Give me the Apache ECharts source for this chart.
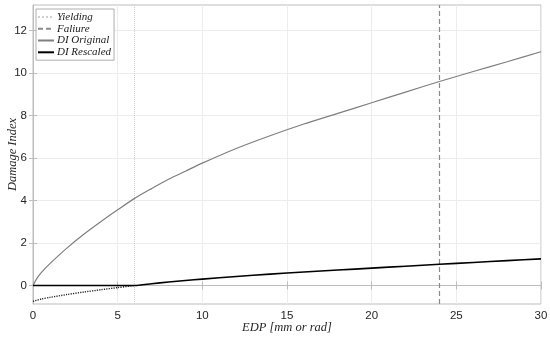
<!DOCTYPE html>
<html>
<head>
<meta charset="utf-8">
<script src="https://cdn.jsdelivr.net/npm/echarts@6/dist/echarts.min.js"></script>
<style>html,body{margin:0;padding:0;background:#fff}#c{width:550px;height:340px}</style>
</head>
<body>
<div id="c"></div>
<script>
// ---- data ----
const edp = [0,0.25,0.5,1,2,3,4,5,6,7,8,9,10,12,14,16,18,20,22,24,26,28,30];
const diOriginal = [0,0.36,0.62,1.03,1.76,2.41,3.00,3.56,4.10,4.56,5.00,5.38,5.76,6.45,7.05,7.60,8.10,8.60,9.10,9.60,10.07,10.53,11.00];
const diRescaled = [0,0,0,0,0,0,0,0,0,0.084,0.164,0.235,0.302,0.427,0.536,0.636,0.727,0.818,0.909,1.000,1.085,1.169,1.255];
const edpBelowYield = [0,0.5,1,2,3,4,5,6];
const diRescaledBelowYield = [-0.745,-0.632,-0.558,-0.425,-0.307,-0.200,-0.098,0];
const yieldEDP = 6;
const failureEDP = 24;
const yTicks = [0,2,4,6,8,10,12];
const yMin = -0.87, yMax = 13.2;

const pair = (xs, ys) => xs.map((x, i) => [x, ys[i]]);
const tickFont = {fontFamily: '"Liberation Sans", Arial, Helvetica, sans-serif', fontSize: 11.5, color: '#262626'};
const nameFont = {fontFamily: '"Liberation Serif", "Times New Roman", serif', fontStyle: 'italic', fontSize: 12.5, color: '#262626'};
const boxColor = '#bdbdbd';
const gridColor = '#ececec';

const chart = echarts.init(document.getElementById('c'), null, {renderer: 'canvas'});
chart.setOption({
  animation: false,
  backgroundColor: '#fff',
  grid: {left: 33, right: 9, top: 5, bottom: 36, show: true, borderColor: boxColor, borderWidth: 1,
         backgroundColor: 'transparent', outerBoundsMode: 'none', containLabel: false},
  legend: {
    z: 20,
    orient: 'vertical', left: 36, top: 9,
    itemWidth: 16, itemHeight: 6, itemGap: 0,
    padding: [2, 3, 2, 1],
    backgroundColor: '#fff', borderColor: '#9a9a9a', borderWidth: 0.8,
    itemStyle: {color: 'transparent', borderColor: 'transparent', borderWidth: 0, opacity: 0},
    textStyle: {fontFamily: nameFont.fontFamily, fontStyle: 'italic', fontSize: 11, lineHeight: 11.8, color: '#1a1a1a', padding: [0,0,0,-2]},
    data: ['Yielding', 'Faliure', 'DI Original', 'DI Rescaled']
  },
  xAxis: [{
    type: 'value', min: 0, max: 30, interval: 5,
    name: 'EDP [mm or rad]', nameLocation: 'middle', nameGap: 17, nameMoveOverlap: false, nameTextStyle: nameFont,
    axisLine: {show: true, lineStyle: {color: boxColor}},
    axisTick: {show: true, inside: true, length: 4, lineStyle: {color: boxColor}},
    axisLabel: Object.assign({margin: 6}, tickFont),
    splitLine: {show: true, lineStyle: {color: gridColor, width: 1}}
  }, {
    type: 'value', min: 0, max: 30, interval: 5, position: 'top',
    axisLine: {show: false}, axisLabel: {show: false}, splitLine: {show: false},
    axisTick: {show: true, inside: true, length: 4, lineStyle: {color: boxColor}}
  }],
  yAxis: [{
    type: 'value', min: yMin, max: yMax,
    name: 'Damage Index', nameLocation: 'middle', nameGap: 14, nameMoveOverlap: false, nameTextStyle: nameFont,
    axisLine: {show: true, lineStyle: {color: boxColor}},
    axisTick: {show: true, inside: true, length: 4, lineStyle: {color: boxColor}, customValues: yTicks},
    axisLabel: Object.assign({margin: 6, customValues: yTicks}, tickFont),
    splitLine: {show: false}
  }, {
    type: 'value', min: yMin, max: yMax, position: 'right',
    axisLine: {show: false}, axisLabel: {show: false, customValues: yTicks}, splitLine: {show: false},
    axisTick: {show: true, inside: true, length: 4, lineStyle: {color: boxColor}, customValues: yTicks}
  }],
  series: [
    {
      name: 'Yielding', type: 'line', data: [], symbol: 'none',
      lineStyle: {color: '#cfcfcf', width: 1, type: 'dotted'},
      itemStyle: {color: '#cfcfcf'},
      markLine: {
        z: 0,
        silent: true, symbol: 'none', label: {show: false},
        lineStyle: {color: '#cfcfcf', width: 1, type: 'dotted'},
        data: yTicks.filter(v => v !== 0).map(v => ({yAxis: v, lineStyle: {color: gridColor, type: 'solid', width: 1}})).concat([{xAxis: yieldEDP}])
      },
      z: 1
    },
    {
      name: 'Faliure', type: 'line', data: [], symbol: 'none',
      lineStyle: {color: '#8a8a8a', width: 1.2, type: [5, 3]},
      itemStyle: {color: '#8a8a8a'},
      markLine: {
        z: 1,
        silent: true, symbol: 'none', label: {show: false},
        lineStyle: {color: '#8a8a8a', width: 1.2, type: [5, 3]},
        data: [{xAxis: failureEDP}]
      },
      z: 2
    },
    {
      name: 'DI Original', type: 'line', data: pair(edp, diOriginal), symbol: 'none', smooth: 0.25,
      lineStyle: {color: '#7f7f7f', width: 1.2}, itemStyle: {color: '#7f7f7f'}, z: 3
    },
    {
      name: 'below yield', type: 'line', data: pair(edpBelowYield, diRescaledBelowYield), symbol: 'none', smooth: 0.25,
      lineStyle: {color: '#222', width: 1.4, type: [1.2, 1.2]}, z: 3
    },
    {
      name: 'DI Rescaled', type: 'line', data: pair(edp, diRescaled), symbol: 'none', smooth: 0.2,
      lineStyle: {color: '#000', width: 1.6}, itemStyle: {color: '#000'}, z: 4
    }
  ]
});
</script>
</body>
</html>
